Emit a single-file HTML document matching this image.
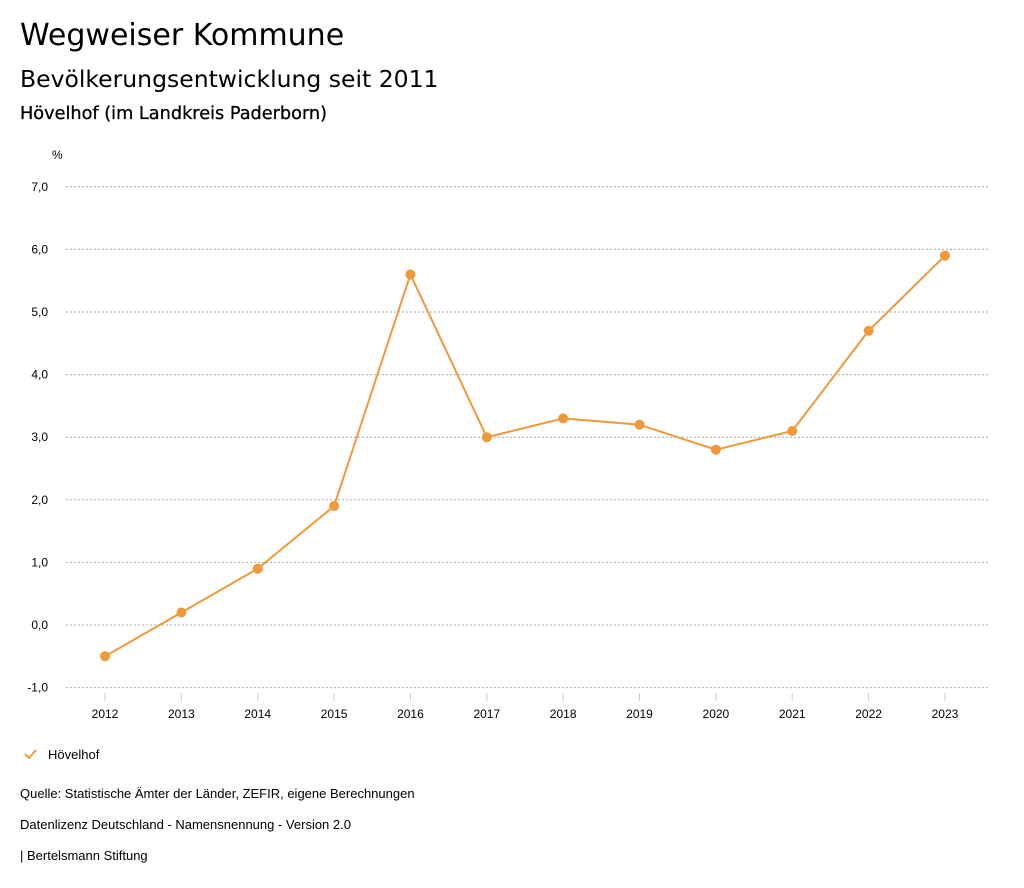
<!DOCTYPE html>
<html><head><meta charset="utf-8"><style>
body{margin:0;width:1024px;height:888px;background:#fff;font-family:"Liberation Sans","DejaVu Sans",sans-serif;color:#000;overflow:hidden}
.t{position:absolute;left:20px;white-space:nowrap}
</style></head><body>
<div class="t" style="top:18px;font-size:30px;font-family:'DejaVu Sans',sans-serif">Wegweiser Kommune</div>
<div class="t" style="top:65px;font-size:23.5px;font-family:'DejaVu Sans',sans-serif">Bevölkerungsentwicklung seit 2011</div>
<div class="t" style="top:104px;font-size:17.7px;-webkit-text-stroke:0.3px #000;font-family:'DejaVu Sans',sans-serif">Hövelhof (im Landkreis Paderborn)</div>
<svg id="c" width="1024" height="888" style="position:absolute;left:0;top:0"></svg>
<div class="t" style="top:786px;font-size:13px">Quelle: Statistische Ämter der Länder, ZEFIR, eigene Berechnungen</div>
<div class="t" style="top:817px;font-size:13px">Datenlizenz Deutschland - Namensnennung - Version 2.0</div>
<div class="t" style="top:848px;font-size:13px">| Bertelsmann Stiftung</div>
<script>
const years=[2012,2013,2014,2015,2016,2017,2018,2019,2020,2021,2022,2023];
const values=[-0.5,0.2,0.9,1.9,5.6,3.0,3.3,3.2,2.8,3.1,4.7,5.9];
const yTicks=[-1,0,1,2,3,4,5,6,7];
const ns="http://www.w3.org/2000/svg",svg=document.getElementById('c');
const col="#f0993a";
function y(v){return 625-v*62.6;}
function x(i){return 105+i*76.36;}
function mk(t,a,p){const e=document.createElementNS(ns,t);for(const k in a)e.setAttribute(k,a[k]);(p||svg).appendChild(e);return e;}
yTicks.forEach(v=>{
 const g=mk('line',{x1:66,x2:990,y1:y(v),y2:y(v),stroke:'#aaa','stroke-dasharray':'2,2','stroke-width':1});
 
 
 const t=mk('text',{x:48,y:y(v)+4,'text-anchor':'end','font-size':12,'font-family':'Liberation Sans,sans-serif'});
 t.textContent=v.toFixed(1).replace('.',',');
 
 
});
const u=mk('text',{x:52,y:159,'font-size':12,'font-family':'Liberation Sans,sans-serif'});u.textContent='%';


years.forEach((yr,i)=>{
 mk('line',{x1:x(i),x2:x(i),y1:693,y2:701,stroke:'#ccc'});
 const t=mk('text',{x:x(i),y:718,'text-anchor':'middle','font-size':12,'font-family':'Liberation Sans,sans-serif'});
 t.textContent=yr;
 
 
});
const pl=mk('polyline',{points:values.map((v,i)=>x(i)+','+y(v)).join(' '),fill:'none',stroke:col,'stroke-width':2});


values.forEach((v,i)=>{
 const c=mk('circle',{cx:x(i),cy:y(v),r:5,fill:col});
 
 
});
const lg=mk('g',{});


mk('polyline',{points:'25,754 29,758 36,750',fill:'none',stroke:col,'stroke-width':2},lg);
const lt=mk('text',{x:48,y:759,'font-size':13,'font-family':'Liberation Sans,sans-serif'},lg);lt.textContent='Hövelhof';
</script>
</body></html>
